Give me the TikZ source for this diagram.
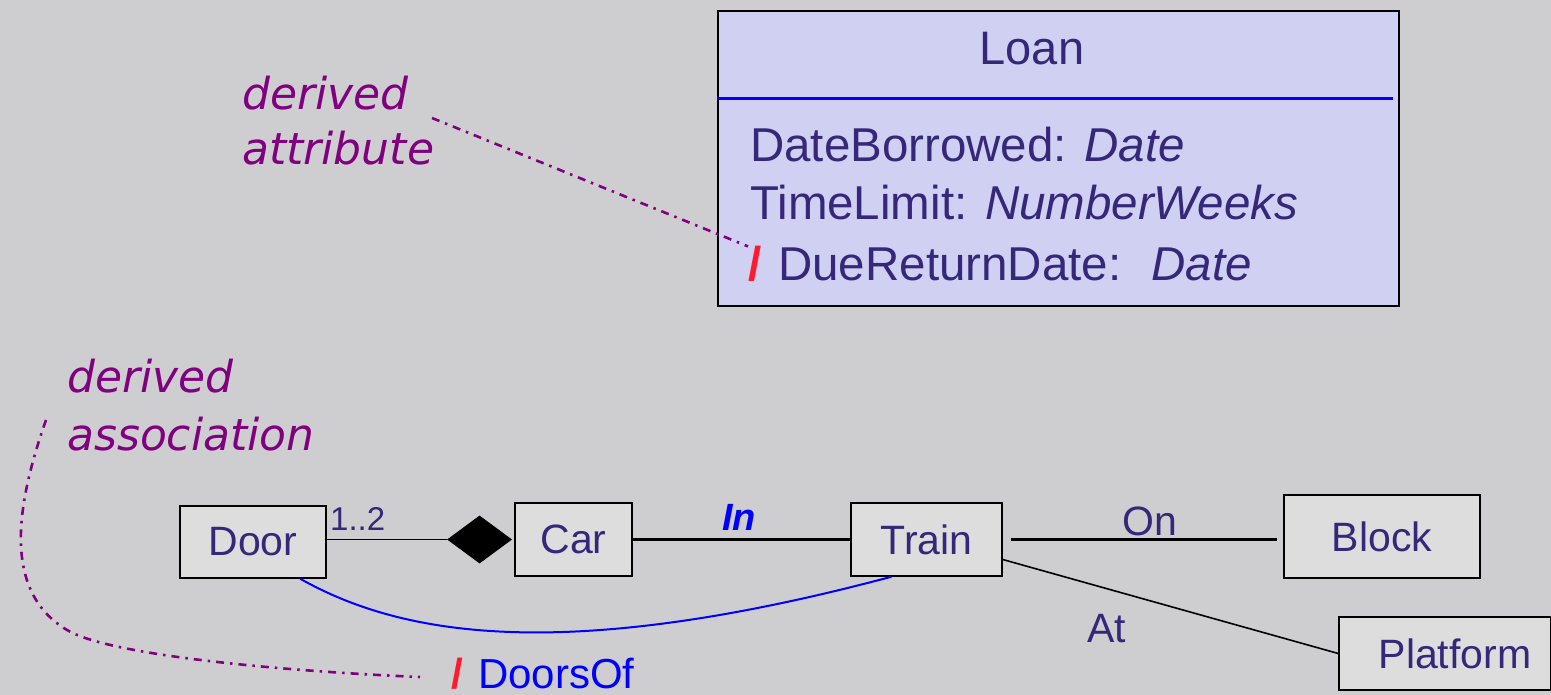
\documentclass[tikz,border=0pt]{standalone}
\usepackage{fontspec}
\setmainfont{Liberation Sans}
\newfontfamily\annfont{DejaVu Sans}
\usetikzlibrary{shapes.geometric,calc}
\definecolor{bg}{HTML}{CECED0}
\definecolor{lav}{HTML}{CFD0F2}
\definecolor{boxfill}{HTML}{DDDDDD}
\definecolor{ink}{HTML}{35287A}
\definecolor{ann}{HTML}{800080}
\definecolor{slashred}{HTML}{FF1A2E}
\tikzset{
  cls/.style={draw=black, line width=1.5pt, fill=boxfill, inner sep=0pt, text=ink,
    font=\fontsize{41}{41}\selectfont},
  txt/.style={inner sep=0pt, anchor=base west, text=ink},
  anntxt/.style={inner sep=0pt, anchor=base west, text=ann,
    font=\annfont\itshape\fontsize{44}{44}\selectfont},
  annline/.style={draw=ann, line width=2.6pt, dash pattern=on 8pt off 6pt on 2.5pt off 6pt},
  assoc/.style={draw=black, line width=2pt},
}
\begin{document}
\begin{tikzpicture}[x=1pt,y=-1pt]
\fill[bg] (0,0) rectangle (1551,695);
\useasboundingbox (0,0) rectangle (1551,695);

% Loan class
\node[draw=black, line width=2pt, fill=lav, minimum width=681pt, minimum height=295pt,
  anchor=north west, inner sep=0pt] (loan) at (717,10) {};
\draw[blue, line width=3pt] (loan.west |- 0,99) -- (1393,99);
\node[inner sep=0pt, anchor=base, text=ink, font=\fontsize{47}{47}\selectfont] (loantitle) at (1032,65) {Loan};
\node[txt, font=\fontsize{47.5}{47.5}\selectfont] (a1) at (750,162) {DateBorrowed: \textit{Date}};
\node[txt, font=\fontsize{47.5}{47.5}\selectfont] (a2) at (750,220) {TimeLimit: \textit{NumberWeeks}};
\node[txt, text=slashred, font=\bfseries\fontsize{47.5}{47.5}\selectfont] (s1) at (748,281) {/};
\node[txt, font=\fontsize{47.5}{47.5}\selectfont] (a3) at (778,281) {DueReturnDate:\hspace{30pt}\textit{Date}};

% annotation: derived attribute
\node[anntxt] (da1) at (242,110) {derived};
\node[anntxt] (da2) at (242,165) {attribute};
\coordinate (c1) at (432,118);
\draw[annline] (c1) -- (s1.north west);

% annotation: derived association
\node[anntxt] (db1) at (67,392) {derived};
\node[anntxt] (db2) at (67,450) {association};
\coordinate (c2) at (46,420);
\coordinate (c3) at (420,677);

% classes
\node[cls, minimum width=146pt, minimum height=72pt] (door) at (253,542) {Door};
\node[cls, minimum width=117pt, minimum height=73pt] (car) at (573.5,539.5) {Car};
\node[cls, minimum width=151pt, minimum height=73pt] (train) at (926.5,539.5) {Train};
\node[cls, minimum width=196pt, minimum height=83pt] (block) at (1382,536.5) {Block};
\node[cls, minimum width=212pt, minimum height=73pt] (platform) at (1445,653.5) {\hspace{20pt}Platform};

% composition diamond
\node[diamond, fill=black, minimum width=65pt, minimum height=48pt, inner sep=0pt,
  anchor=east] (dia) at ([xshift=-2pt]car.west) {};

% connectors
\draw[assoc, line width=1.8pt] (door.east |- dia.west) -- (dia.west);
\draw[assoc, line width=2.5pt] (car.east) -- (train.west);
\draw[assoc, line width=2.5pt, shorten <=8pt, shorten >=6pt] (train.east) -- (train.east -| block.west);
\draw[assoc, line width=1.6pt] ([yshift=-20pt]train.east) -- (platform.west);
\draw[blue, line width=2pt] ($(door.south west)!0.82!(door.south east)$)
  .. controls (400,635) and (560,665) .. ($(train.south west)!0.27!(train.south east)$);
\draw[annline] (c2) .. controls (18,500) and (0,590) .. (67,630)
  .. controls (112,657) and (300,672) .. (c3);

% labels
\node[txt, font=\fontsize{33}{33}\selectfont] (m12) at (330,530) {1..2};
\node[txt, text=blue, font=\bfseries\itshape\fontsize{38}{38}\selectfont] (lin) at (722,530) {In};
\node[txt, font=\fontsize{41}{41}\selectfont] (lon) at (1122,535) {On};
\node[txt, font=\fontsize{41}{41}\selectfont] (lat) at (1087,642) {At};
\node[txt, text=slashred, font=\bfseries\fontsize{42}{42}\selectfont] (s2) at (451,688) {/};
\node[txt, text=blue, font=\fontsize{42}{42}\selectfont] (doorsof) at (478,688) {DoorsOf};
\end{tikzpicture}
\end{document}
